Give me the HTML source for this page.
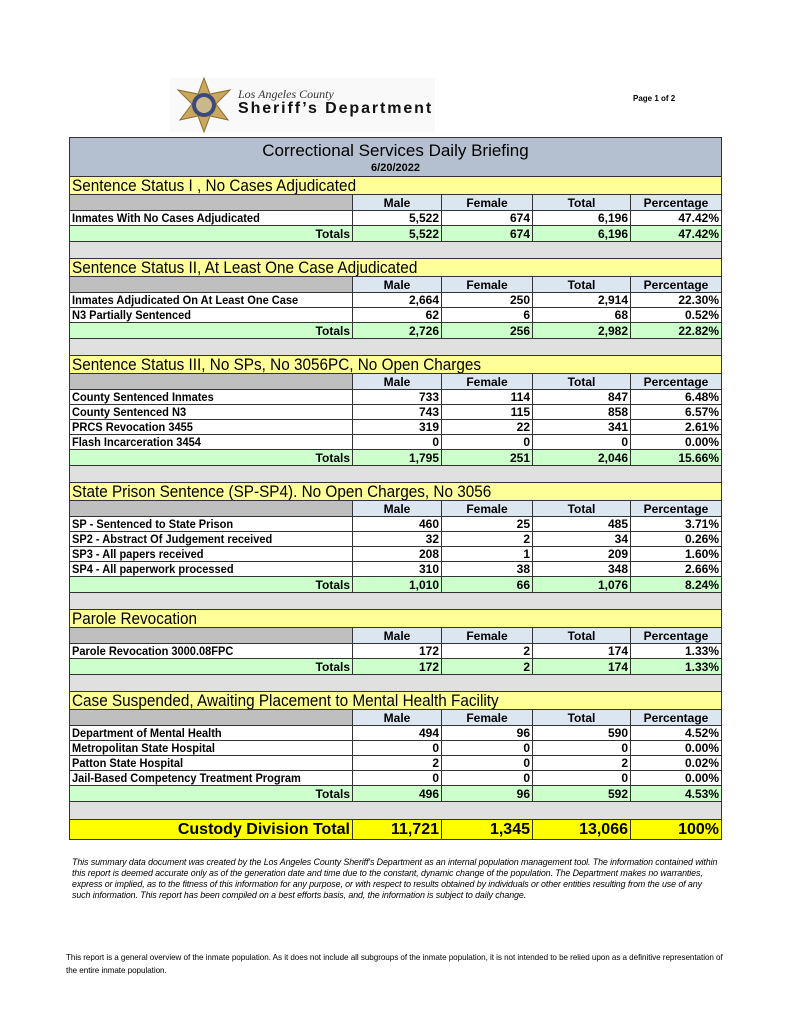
<!DOCTYPE html>
<html><head><meta charset="utf-8"><style>
body{margin:0;background:#fff;width:791px;height:1024px;position:relative;font-family:"Liberation Sans",Arial,sans-serif;overflow:hidden}
table{position:absolute;left:69px;top:137px;width:652px;border-collapse:collapse;table-layout:fixed}
td{border:1px solid #333;padding:0 2px;font-weight:bold;font-size:12px;line-height:12px;white-space:nowrap;overflow:hidden}
td.n{text-align:right}
tr.sh td{background:#ffff99;font-weight:normal;font-size:17px;height:17px;border-left:1px solid #333;border-right:1px solid #333}
tr.ch td{background:#dce6f1;text-align:center;font-weight:bold;font-size:12px;height:15px}
tr.ch td.g{background:#bfbfbf}
tr.d td{height:14px}
tr.t td{background:#ccffcc;height:15px}
tr.sp td{background:#e0e0e0;height:16px;border-left:1px solid #333;border-right:1px solid #333}
tr.gt td{background:#ffff00;height:19px;font-size:16px}
.c{display:inline-block;transform:scaleX(.92);transform-origin:left}
.h{display:inline-block;transform:scaleX(.9);transform-origin:left}
</style></head><body>
<div style="position:absolute;left:170px;top:78px;width:265px;height:54px;background:#f9f9f9"></div>
<svg style="position:absolute;left:172px;top:76px" width="64" height="58" viewBox="0 0 64 58">
<polygon points="32,2 38,18 58,14 44,28 56,44 38,40 32,56 26,40 8,44 20,28 6,14 26,18" fill="#c9a85e" stroke="#8a6d2e"/>
<circle cx="32" cy="29" r="12" fill="#3a4a7a"/><circle cx="32" cy="29" r="8" fill="#c9b98a"/></svg>
<div style="position:absolute;left:238px;top:87px;font-family:'Liberation Serif',serif;font-style:italic;font-size:12px;color:#333">Los Angeles County</div>
<div style="position:absolute;left:238px;top:100px;font-weight:900;font-size:16px;color:#111;letter-spacing:1.9px">Sheriff’s Department</div>
<div style="position:absolute;left:633px;top:94px;font-size:8px;font-weight:bold">Page 1 of 2</div>
<table>
<colgroup><col style="width:283px"><col style="width:89px"><col style="width:91px"><col style="width:98px"><col style="width:91px"></colgroup>
<tr><td colspan="5" style="background:#b4c0d0;height:38px;text-align:center;font-weight:normal;padding:0"><div style="font-size:17px;line-height:20px;margin-top:1px">Correctional Services Daily Briefing</div><div style="font-size:11px;font-weight:bold;line-height:14px">6/20/2022</div></td></tr>
<tr class="sh"><td colspan="5"><span class="h">Sentence Status I , No Cases Adjudicated</span></td></tr>
<tr class="ch"><td class="g"></td><td>Male</td><td>Female</td><td>Total</td><td>Percentage</td></tr>
<tr class="d"><td><span class="c">Inmates With No Cases Adjudicated</span></td><td class="n">5,522</td><td class="n">674</td><td class="n">6,196</td><td class="n">47.42%</td></tr>
<tr class="t"><td class="n">Totals</td><td class="n">5,522</td><td class="n">674</td><td class="n">6,196</td><td class="n">47.42%</td></tr>
<tr class="sp"><td colspan="5"></td></tr>
<tr class="sh"><td colspan="5"><span class="h">Sentence Status II, At Least One Case Adjudicated</span></td></tr>
<tr class="ch"><td class="g"></td><td>Male</td><td>Female</td><td>Total</td><td>Percentage</td></tr>
<tr class="d"><td><span class="c">Inmates Adjudicated On At Least One Case</span></td><td class="n">2,664</td><td class="n">250</td><td class="n">2,914</td><td class="n">22.30%</td></tr>
<tr class="d"><td><span class="c">N3 Partially Sentenced</span></td><td class="n">62</td><td class="n">6</td><td class="n">68</td><td class="n">0.52%</td></tr>
<tr class="t"><td class="n">Totals</td><td class="n">2,726</td><td class="n">256</td><td class="n">2,982</td><td class="n">22.82%</td></tr>
<tr class="sp"><td colspan="5"></td></tr>
<tr class="sh"><td colspan="5"><span class="h">Sentence Status III, No SPs, No 3056PC, No Open Charges</span></td></tr>
<tr class="ch"><td class="g"></td><td>Male</td><td>Female</td><td>Total</td><td>Percentage</td></tr>
<tr class="d"><td><span class="c">County Sentenced Inmates</span></td><td class="n">733</td><td class="n">114</td><td class="n">847</td><td class="n">6.48%</td></tr>
<tr class="d"><td><span class="c">County Sentenced N3</span></td><td class="n">743</td><td class="n">115</td><td class="n">858</td><td class="n">6.57%</td></tr>
<tr class="d"><td><span class="c">PRCS Revocation 3455</span></td><td class="n">319</td><td class="n">22</td><td class="n">341</td><td class="n">2.61%</td></tr>
<tr class="d"><td><span class="c">Flash Incarceration 3454</span></td><td class="n">0</td><td class="n">0</td><td class="n">0</td><td class="n">0.00%</td></tr>
<tr class="t"><td class="n">Totals</td><td class="n">1,795</td><td class="n">251</td><td class="n">2,046</td><td class="n">15.66%</td></tr>
<tr class="sp"><td colspan="5"></td></tr>
<tr class="sh"><td colspan="5"><span class="h">State Prison Sentence (SP-SP4). No Open Charges, No 3056</span></td></tr>
<tr class="ch"><td class="g"></td><td>Male</td><td>Female</td><td>Total</td><td>Percentage</td></tr>
<tr class="d"><td><span class="c">SP - Sentenced to State Prison</span></td><td class="n">460</td><td class="n">25</td><td class="n">485</td><td class="n">3.71%</td></tr>
<tr class="d"><td><span class="c">SP2 - Abstract Of Judgement received</span></td><td class="n">32</td><td class="n">2</td><td class="n">34</td><td class="n">0.26%</td></tr>
<tr class="d"><td><span class="c">SP3 - All papers received</span></td><td class="n">208</td><td class="n">1</td><td class="n">209</td><td class="n">1.60%</td></tr>
<tr class="d"><td><span class="c">SP4 - All paperwork processed</span></td><td class="n">310</td><td class="n">38</td><td class="n">348</td><td class="n">2.66%</td></tr>
<tr class="t"><td class="n">Totals</td><td class="n">1,010</td><td class="n">66</td><td class="n">1,076</td><td class="n">8.24%</td></tr>
<tr class="sp"><td colspan="5"></td></tr>
<tr class="sh"><td colspan="5"><span class="h">Parole Revocation</span></td></tr>
<tr class="ch"><td class="g"></td><td>Male</td><td>Female</td><td>Total</td><td>Percentage</td></tr>
<tr class="d"><td><span class="c">Parole Revocation 3000.08FPC</span></td><td class="n">172</td><td class="n">2</td><td class="n">174</td><td class="n">1.33%</td></tr>
<tr class="t"><td class="n">Totals</td><td class="n">172</td><td class="n">2</td><td class="n">174</td><td class="n">1.33%</td></tr>
<tr class="sp"><td colspan="5"></td></tr>
<tr class="sh"><td colspan="5"><span class="h">Case Suspended, Awaiting Placement to Mental Health Facility</span></td></tr>
<tr class="ch"><td class="g"></td><td>Male</td><td>Female</td><td>Total</td><td>Percentage</td></tr>
<tr class="d"><td><span class="c">Department of Mental Health</span></td><td class="n">494</td><td class="n">96</td><td class="n">590</td><td class="n">4.52%</td></tr>
<tr class="d"><td><span class="c">Metropolitan State Hospital</span></td><td class="n">0</td><td class="n">0</td><td class="n">0</td><td class="n">0.00%</td></tr>
<tr class="d"><td><span class="c">Patton State Hospital</span></td><td class="n">2</td><td class="n">0</td><td class="n">2</td><td class="n">0.02%</td></tr>
<tr class="d"><td><span class="c">Jail-Based Competency Treatment Program</span></td><td class="n">0</td><td class="n">0</td><td class="n">0</td><td class="n">0.00%</td></tr>
<tr class="t"><td class="n">Totals</td><td class="n">496</td><td class="n">96</td><td class="n">592</td><td class="n">4.53%</td></tr>
<tr class="sp"><td colspan="5" style="height:17px"></td></tr>
<tr class="gt"><td class="n">Custody Division Total</td><td class="n">11,721</td><td class="n">1,345</td><td class="n">13,066</td><td class="n">100%</td></tr>
</table>
<div style="position:absolute;left:72px;top:857px;width:650px;font-size:8.9px;line-height:11px;font-style:italic;letter-spacing:-0.1px">This summary data document was created by the Los Angeles County Sheriff's Department as an internal population management tool. The information contained within this report is deemed accurate only as of the generation date and time due to the constant, dynamic change of the population. The Department makes no warranties, express or implied, as to the fitness of this information for any purpose, or with respect to results obtained by individuals or other entities resulting from the use of any such information. This report has been compiled on a best efforts basis, and, the information is subject to daily change.</div>
<div style="position:absolute;left:66px;top:951px;width:662px;font-size:8.1px;line-height:13px;letter-spacing:-0.05px">This report is a general overview of the inmate population. As it does not include all subgroups of the inmate population, it is not intended to be relied upon as a definitive representation of the entire inmate population.</div>
</body></html>
